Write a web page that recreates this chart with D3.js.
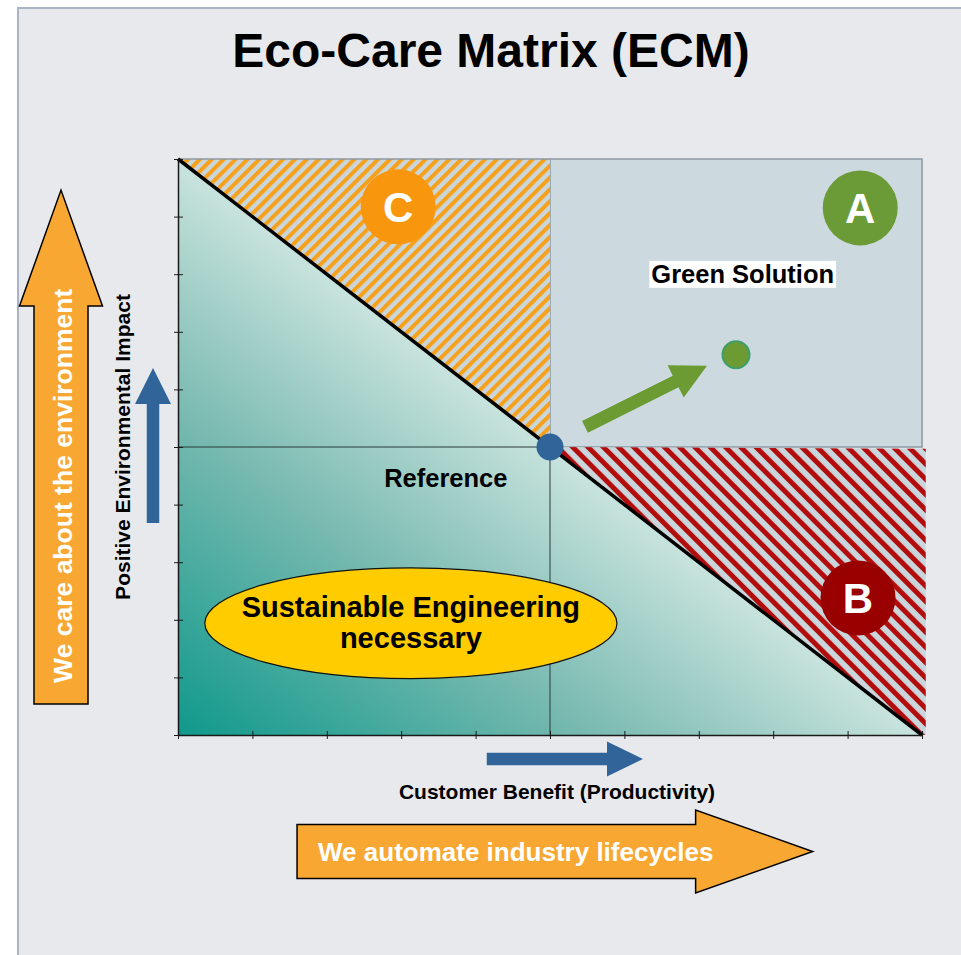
<!DOCTYPE html>
<html>
<head>
<meta charset="utf-8">
<script src="https://cdn.jsdelivr.net/npm/d3@7"></script>
<style>
  body { margin: 0; background: #ffffff; }
  svg { display: block; font-family: "Liberation Sans", Arial, sans-serif; }
</style>
</head>
<body>
<svg id="ecm" width="961" height="955"></svg>
<script>
// chart values (data units, both axes 0..10)
var tickValues = [0, 1, 2, 3, 4, 5, 6, 7, 8, 9, 10];
var referencePoint = [5, 5];
var greenPoint = [7.5, 6.6];
var greenArrow = [[5.47, 5.35], [7.11, 6.41]];
var zoneLetters = ["A", "B", "C"];
var zoneX = [9.17, 9.14, 2.96];
var zoneY = [9.15, 2.38, 9.17];
var zoneColors = ["#6b9b37", "#990000", "#f8960e"];
var orangeZone = [[0, 10], [5, 10], [5, 5]];
var redZone = [[5, 5], [10.05, 4.97], [10.05, 0], [10, 0]];
var greenZone = [[5, 5], [10, 5], [10, 10], [5, 10]];
var lowerZone = [[0, 10], [10, 0], [0, 0]];
var ellipseCenter = [3.13, 1.94];
var ellipseRadius = [2.77, 0.96];
var ellipseLines = ["Sustainable Engineering", "necessary"];

var margin = {top: 159, left: 178, right: 39, bottom: 220},
	width = 961 - margin.left - margin.right,
	height = 955 - margin.top - margin.bottom;

var svg = d3.select("#ecm");

// page frame
svg.append("rect")
	.attr("x", 18).attr("y", 8)
	.attr("width", 1000).attr("height", 1000)
	.attr("fill", "#e8e9ed")
	.attr("stroke", "#aab4c4")
	.attr("stroke-width", 2);

svg.append("text")
	.attr("x", 491).attr("y", 67)
	.attr("text-anchor", "middle")
	.attr("font-size", 48)
	.attr("font-weight", "bold")
	.text("Eco-Care Matrix (ECM)");

var x = d3.scaleLinear().domain([0, 10]).range([margin.left, margin.left + width]);
var y = d3.scaleLinear().domain([0, 10]).range([margin.top + height, margin.top]);

var defs = svg.append("defs");

var grad = defs.append("linearGradient")
	.attr("id", "teal")
	.attr("gradientUnits", "userSpaceOnUse")
	.attr("x1", x(0)).attr("y1", y(0))
	.attr("x2", 457).attr("y2", 375);
grad.append("stop").attr("offset", "0").attr("stop-color", "#0f998b");
grad.append("stop").attr("offset", "0.55").attr("stop-color", "#77b9b0");
grad.append("stop").attr("offset", "1").attr("stop-color", "#c8e3dd");

function stripes(id, color, angle, period, stripe) {
	var p = defs.append("pattern")
		.attr("id", id)
		.attr("patternUnits", "userSpaceOnUse")
		.attr("width", period).attr("height", period)
		.attr("patternTransform", "rotate(" + angle + ")");
	p.append("rect").attr("width", period).attr("height", period).attr("fill", "#c9d6dc");
	p.append("rect").attr("width", stripe).attr("height", period).attr("fill", color);
}
stripes("orangeHatch", "#f7a01a", 45, 8.4, 4);
stripes("redHatch", "#b30c0c", -45, 10.8, 5);

var line = d3.line().x(function(d) { return x(d[0]); }).y(function(d) { return y(d[1]); });

var plot = svg.append("g");

plot.append("path")
	.attr("d", line(greenZone) + "Z")
	.attr("fill", "#ccd9df")
	.attr("stroke", "#8c98a4")
	.attr("stroke-width", 1.5);

plot.append("path")
	.attr("d", line(orangeZone) + "Z")
	.attr("fill", "url(#orangeHatch)");

plot.append("path")
	.attr("d", line(redZone) + "Z")
	.attr("fill", "url(#redHatch)");

plot.append("path")
	.attr("d", line(lowerZone) + "Z")
	.attr("fill", "url(#teal)");

// top border of the plot
plot.append("line")
	.attr("x1", x(0)).attr("x2", x(5))
	.attr("y1", y(10)).attr("y2", y(10))
	.attr("stroke", "#8c98a4").attr("stroke-width", 1.5);

// centre cross
plot.append("line")
	.attr("x1", x(0)).attr("x2", x(5))
	.attr("y1", y(5)).attr("y2", y(5))
	.attr("stroke", "#2a3a3a").attr("stroke-width", 1);
plot.append("line")
	.attr("x1", x(5)).attr("x2", x(5))
	.attr("y1", y(5)).attr("y2", y(0))
	.attr("stroke", "#2a3a3a").attr("stroke-width", 1);

// axes with crossing ticks
var xAxis = svg.append("g")
	.attr("transform", "translate(0," + y(0) + ")")
	.call(d3.axisBottom(x).tickValues(tickValues).tickSize(4).tickSizeOuter(0).tickFormat(""));
var yAxis = svg.append("g")
	.attr("transform", "translate(" + x(0) + ",0)")
	.call(d3.axisLeft(y).tickValues(tickValues).tickSize(4).tickSizeOuter(0).tickFormat(""));
xAxis.selectAll(".tick line").attr("y1", -4).attr("y2", 4);
yAxis.selectAll(".tick line").attr("x1", -4).attr("x2", 5);
svg.selectAll(".domain").attr("stroke", "#1a1a1a").attr("stroke-width", 1.5);
svg.selectAll(".tick line").attr("stroke", "#1a1a1a");

// diagonal
plot.append("line")
	.attr("x1", x(0)).attr("y1", y(10))
	.attr("x2", x(10)).attr("y2", y(0))
	.attr("stroke", "#000").attr("stroke-width", 3.5);

function arrowPoints(x0, y0, x1, y1, shaft, headW, headL) {
	var dx = x1 - x0, dy = y1 - y0, len = Math.hypot(dx, dy);
	var ux = dx / len, uy = dy / len, px = -uy, py = ux;
	var bx = x1 - ux * headL, by = y1 - uy * headL;
	var s = shaft / 2, h = headW / 2;
	return [
		[x0 + px * s, y0 + py * s], [bx + px * s, by + py * s], [bx + px * h, by + py * h],
		[x1, y1],
		[bx - px * h, by - py * h], [bx - px * s, by - py * s], [x0 - px * s, y0 - py * s]
	].map(function(p) { return p.join(","); }).join(" ");
}

plot.append("polygon")
	.attr("points", arrowPoints(x(greenArrow[0][0]), y(greenArrow[0][1]), x(greenArrow[1][0]), y(greenArrow[1][1]), 13, 36, 35))
	.attr("fill", "#6b9b32");

plot.append("circle")
	.attr("cx", x(greenPoint[0])).attr("cy", y(greenPoint[1]))
	.attr("r", 13.5)
	.attr("fill", "#6b9b32")
	.attr("stroke", "#3e9f6c").attr("stroke-width", 2);

plot.append("circle")
	.attr("cx", x(referencePoint[0])).attr("cy", y(referencePoint[1]))
	.attr("r", 13.5)
	.attr("fill", "#31659a");

// zone badges
zoneLetters.forEach(function(l, i) {
	plot.append("circle")
		.attr("cx", x(zoneX[i])).attr("cy", y(zoneY[i]))
		.attr("r", 37.5)
		.attr("fill", zoneColors[i]);
	plot.append("text")
		.attr("x", x(zoneX[i])).attr("y", y(zoneY[i]) + 15)
		.attr("text-anchor", "middle")
		.attr("font-size", 42)
		.attr("font-weight", "bold")
		.attr("fill", "#fff")
		.text(l);
});

// Green Solution label with white box
var gs = plot.append("text")
	.attr("x", x(7.59)).attr("y", y(7.85))
	.attr("text-anchor", "middle")
	.attr("font-size", 25.5)
	.attr("font-weight", "bold")
	.text("Green Solution");
var bb = gs.node().getBBox();
plot.insert("rect", function() { return gs.node(); })
	.attr("x", bb.x - 2).attr("y", bb.y + 1)
	.attr("width", bb.width + 4).attr("height", bb.height - 1)
	.attr("fill", "#fff");

plot.append("text")
	.attr("x", x(3.6)).attr("y", y(4.3))
	.attr("text-anchor", "middle")
	.attr("font-size", 25.5)
	.attr("font-weight", "bold")
	.text("Reference");

plot.append("ellipse")
	.attr("cx", x(ellipseCenter[0])).attr("cy", y(ellipseCenter[1]))
	.attr("rx", x(ellipseRadius[0]) - x(0)).attr("ry", y(0) - y(ellipseRadius[1]))
	.attr("fill", "#ffcc00")
	.attr("stroke", "#111").attr("stroke-width", 1.2);

ellipseLines.forEach(function(t, i) {
	plot.append("text")
		.attr("x", x(ellipseCenter[0])).attr("y", y(ellipseCenter[1]) - 6 + i * 31)
		.attr("text-anchor", "middle")
		.attr("font-size", 29)
		.attr("font-weight", "bold")
		.text(t);
});

// axis titles and direction arrows
svg.append("polygon")
	.attr("points", arrowPoints(x(4.15), y(0) + 24, x(6.25), y(0) + 24, 12.5, 35, 36))
	.attr("fill", "#31659a");
svg.append("text")
	.attr("x", 557).attr("y", 799)
	.attr("text-anchor", "middle")
	.attr("font-size", 21)
	.attr("font-weight", "bold")
	.text("Customer Benefit (Productivity)");

svg.append("polygon")
	.attr("points", arrowPoints(x(0) - 25, y(3.68), x(0) - 25, y(6.37), 12.5, 36, 36))
	.attr("fill", "#31659a");
svg.append("text")
	.attr("transform", "translate(130," + y(5) + ") rotate(-90)")
	.attr("text-anchor", "middle")
	.attr("font-size", 21)
	.attr("font-weight", "bold")
	.text("Positive Environmental Impact");

// big orange arrows
svg.append("polygon")
	.attr("points", arrowPoints(x(1.6), 851.5, x(8.53), 851.5, 54, 83, 117))
	.attr("fill", "#f8a832")
	.attr("stroke", "#000").attr("stroke-width", 1.5);
svg.append("text")
	.attr("x", x(1.6) + 21).attr("y", 861)
	.attr("font-size", 26)
	.attr("font-weight", "bold")
	.attr("fill", "#fff")
	.text("We automate industry lifecycles");

svg.append("polygon")
	.attr("points", arrowPoints(61, y(0.54), 61, y(9.46), 54, 83, 116))
	.attr("fill", "#f8a832")
	.attr("stroke", "#000").attr("stroke-width", 1.5);
svg.append("text")
	.attr("transform", "translate(72," + (y(0.54) - 21) + ") rotate(-90)")
	.attr("font-size", 26.5)
	.attr("font-weight", "bold")
	.attr("fill", "#fff")
	.text("We care about the environment");
</script>
</body>
</html>
